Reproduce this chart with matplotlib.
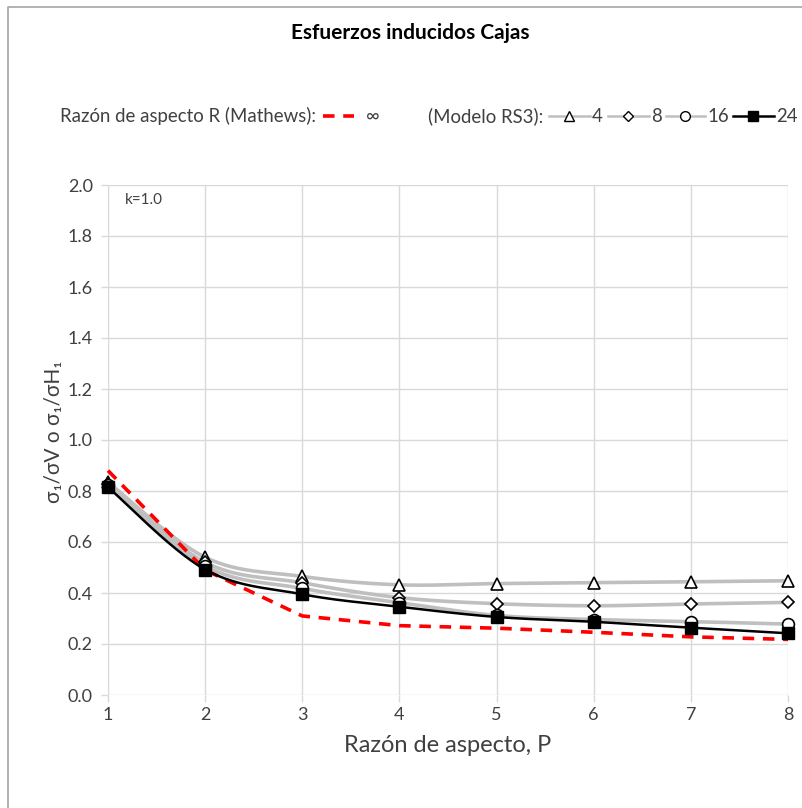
import numpy as np
import matplotlib
matplotlib.use("Agg")
import matplotlib.pyplot as plt
from matplotlib.lines import Line2D

plt.rcParams['font.family'] = ['Lato', 'DejaVu Sans']

# Aspect ratio P (x axis)
p_values = [1, 2, 3, 4, 5, 6, 7, 8]

# Mathews curve for R = infinity
mathews_inf = [0.88, 0.49, 0.31, 0.272, 0.262, 0.246, 0.228, 0.218]

# RS3 model results for several aspect ratios R
rs3_r4 = [0.835, 0.54, 0.465, 0.432, 0.437, 0.440, 0.444, 0.448]
rs3_r8 = [0.828, 0.52, 0.440, 0.382, 0.358, 0.350, 0.357, 0.363]
rs3_r16 = [0.822, 0.505, 0.418, 0.362, 0.312, 0.296, 0.288, 0.278]
rs3_r24 = [0.815, 0.492, 0.395, 0.346, 0.306, 0.287, 0.264, 0.242]

series_labels = ["4", "8", "16", "24"]
x_ticks = [1, 2, 3, 4, 5, 6, 7, 8]
y_ticks = [0.0, 0.2, 0.4, 0.6, 0.8, 1.0, 1.2, 1.4, 1.6, 1.8, 2.0]


def smooth(x, y, n=30, tension=0.5):
    """Cardinal spline through the points (similar to spreadsheet smoothed lines)."""
    x = np.asarray(x, float)
    y = np.asarray(y, float)
    pts = np.column_stack([x, y])
    ext = np.vstack([pts[0], pts, pts[-1]])
    out = []
    for i in range(1, len(ext) - 2):
        p0, p1, p2, p3 = ext[i - 1], ext[i], ext[i + 1], ext[i + 2]
        m1 = tension * (p2 - p0)
        m2 = tension * (p3 - p1)
        t = np.linspace(0, 1, n)[:, None]
        h00 = 2 * t**3 - 3 * t**2 + 1
        h10 = t**3 - 2 * t**2 + t
        h01 = -2 * t**3 + 3 * t**2
        h11 = t**3 - t**2
        seg = h00 * p1 + h10 * m1 + h01 * p2 + h11 * m2
        out.append(seg if i == 1 else seg[1:])
    c = np.vstack(out)
    return c[:, 0], c[:, 1]


W, H = 803, 808
fig = plt.figure(figsize=(W / 100, H / 100), dpi=100)
ax = fig.add_axes([108 / W, 1 - 695 / H, (788 - 108) / W, (695 - 185) / H])

grid_c = "#d9d9d9"
gray_line = "#bfbfbf"
text_c = "#404040"

ax.plot(p_values, mathews_inf, color="#ff0000", lw=2.6, ls=(0, (3.2, 2.4)), zorder=3,
        dash_capstyle="butt")

gray_series = [(rs3_r4, "^"), (rs3_r8, "D"), (rs3_r16, "o")]
msizes = {"^": 8.5, "D": 6.0, "o": 8.5}
for vals, mk in gray_series:
    sx, sy = smooth(p_values, vals)
    ax.plot(sx, sy, color=gray_line, lw=2.6, zorder=2)
for vals, mk in gray_series:
    ax.plot(p_values, vals, ls="none", marker=mk, ms=msizes[mk], mfc="white",
            mec="black", mew=1.2, zorder=4)

sx, sy = smooth(p_values, rs3_r24)
ax.plot(sx, sy, color="black", lw=1.8, zorder=5)
ax.plot(p_values, rs3_r24, ls="none", marker="s", ms=8, mfc="black", mec="black", zorder=6)

ax.set_xlim(1, 8)
ax.set_ylim(0, 2.0)
ax.set_xticks(x_ticks)
ax.set_yticks(y_ticks)
ax.set_yticklabels([f"{v:.1f}" for v in y_ticks])
ax.grid(True, color=grid_c, lw=1.0)
ax.set_axisbelow(True)
for s in ax.spines.values():
    s.set_visible(False)
ax.tick_params(axis="both", colors=grid_c, labelcolor=text_c, labelsize=13,
               length=5, width=1.0)
ax.tick_params(axis="x", pad=4)
ax.tick_params(axis="y", pad=6)
for ln in ax.lines:
    ln.set_clip_on(False)

ax.set_xlabel("Razón de aspecto, P", fontsize=17, color=text_c, labelpad=8)
ax.set_ylabel("σ₁/σV o σ₁/σH₁", fontsize=15, color=text_c)
ax.yaxis.set_label_coords((64 - 108) / 680, (695 - 432) / 510)

fig.text(125 / W, 1 - 200 / H, "k=1.0", fontsize=11, color=text_c,
         va="center", ha="left")

fig.text(410 / W, 1 - 33 / H, "Esfuerzos inducidos Cajas", ha="center", va="center",
         fontsize=15, fontweight="bold", color="black")

# Legend row
ly = 1 - 116 / H
txt_kw = dict(fontsize=13.4, color=text_c, va="center")
fig.text(60 / W, ly, "Razón de aspecto R (Mathews):", ha="left", **txt_kw)
fig.add_artist(Line2D([323 / W, 354 / W], [ly, ly], transform=fig.transFigure,
                      color="#ff0000", lw=2.6, ls=(0, (3.2, 2.4))))
fig.text(366 / W, ly, "∞", ha="left", **txt_kw)
fig.text(428 / W, ly, "(Modelo RS3):", ha="left", **txt_kw)

leg_items = [
    (549, 590, "^", "white", gray_line, 1.8, 7, series_labels[0], 592),
    (608, 649, "D", "white", gray_line, 1.8, 5, series_labels[1], 651),
    (666, 705, "o", "white", gray_line, 1.8, 7, series_labels[2], 707),
    (733, 774, "s", "black", "black", 1.8, 6.5, series_labels[3], 776),
]
for x0, x1, mk, mfc, lc, lw, ms, lab, tx in leg_items:
    fig.add_artist(Line2D([x0 / W, x1 / W], [ly, ly], transform=fig.transFigure,
                          color=lc, lw=lw))
    fig.add_artist(Line2D([(x0 + x1) / 2 / W], [ly], transform=fig.transFigure,
                          ls="none", marker=mk, ms=ms, mfc=mfc, mec="black", mew=1.0))
    fig.text(tx / W, ly, lab, ha="left", **txt_kw)

# Chart area border
fig.add_artist(Line2D([8 / W, 8 / W, 803 / W], [0, 1 - 7 / H, 1 - 7 / H],
                      transform=fig.transFigure, color="#a6a6a6", lw=1.2))

fig.savefig("out.png", dpi=100, facecolor="white")
